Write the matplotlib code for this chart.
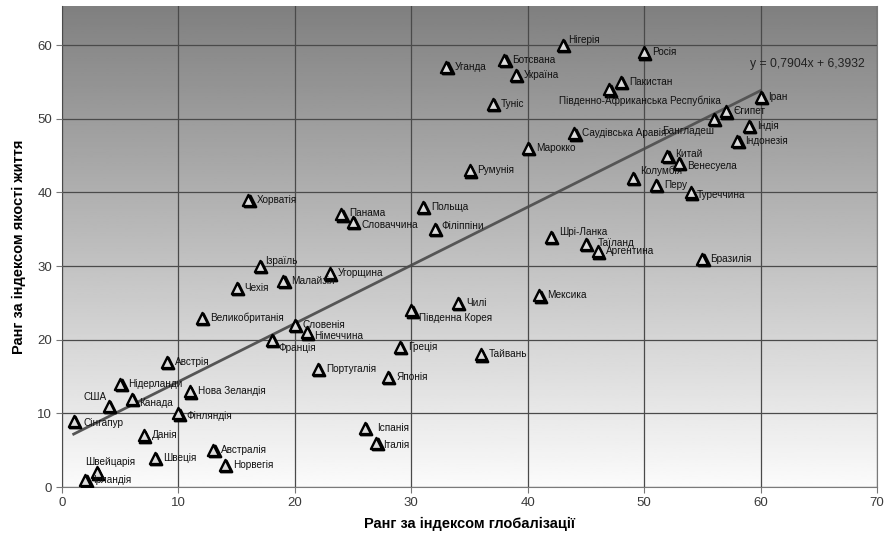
import matplotlib
matplotlib.use("Agg")
import matplotlib.pyplot as plt
import matplotlib.transforms as mtransforms
import numpy as np

plt.rcParams['font.family'] = ['Liberation Sans', 'DejaVu Sans']

# дані: ранг за індексом глобалізації (x) і ранг за індексом якості життя (y)
countries = [
    "Нігерія", "Росія", "Ботсвана", "Уганда", "Україна", "Пакистан",
    "Південно-Африканська Республіка", "Іран", "Туніс", "Єгипет", "Бангладеш",
    "Індія", "Саудівська Аравія", "Індонезія", "Марокко", "Китай", "Венесуела",
    "Румунія", "Колумбія", "Перу", "Туреччина", "Хорватія", "Польща", "Панама",
    "Словаччина", "Філіппіни", "Шрі-Ланка", "Таїланд", "Аргентина", "Бразилія",
    "Ізраїль", "Угорщина", "Малайзія", "Чехія", "Мексика", "Чилі",
    "Південна Корея", "Великобританія", "Словенія", "Німеччина", "Франція",
    "Греція", "Тайвань", "Австрія", "Португалія", "Японія", "Нідерланди",
    "Нова Зеландія", "Канада", "США", "Фінляндія", "Сінгапур", "Іспанія",
    "Данія", "Італія", "Австралія", "Швеція", "Норвегія", "Швейцарія", "Ірландія",
]
glob_rank = [
    43, 50, 38, 33, 39, 48, 47, 60, 37, 57, 56, 59, 44, 58, 40, 52, 53, 35, 49, 51,
    54, 16, 31, 24, 25, 32, 42, 45, 46, 55, 17, 23, 19, 15, 41, 34, 30, 12, 20, 21,
    18, 29, 36, 9, 22, 28, 5, 11, 6, 4, 10, 1, 26, 7, 27, 13, 8, 14, 3, 2,
]
life_rank = [
    60, 59, 58, 57, 56, 55, 54, 53, 52, 51, 50, 49, 48, 47, 46, 45, 44, 43, 42, 41,
    40, 39, 38, 37, 36, 35, 34, 33, 32, 31, 30, 29, 28, 27, 26, 25, 24, 23, 22, 21,
    20, 19, 18, 17, 16, 15, 14, 13, 12, 11, 10, 9, 8, 7, 6, 5, 4, 3, 2, 1,
]
trend_text = "y = 0,7904x + 6,3932"

# розташування підписів (пікселі), які відрізняються від звичайного
label_pos = {
    "Нігерія": (5, 5, "left"), "Ізраїль": (5, 5, "left"), "Колумбія": (8, 7, "left"),
    "Шрі-Ланка": (8, 5, "left"), "Філіппіни": (7, 3, "left"),
    "Південна Корея": (8, -8, "left"), "Франція": (7, -8, "left"),
    "Німеччина": (8, -4, "left"), "Туреччина": (6, -3, "left"),
    "Канада": (7, -4, "left"), "Фінляндія": (8, -3, "left"),
    "Іспанія": (12, 0, "left"), "Таїланд": (12, 1, "left"),
    "Бангладеш": (0, -12, "right"), "Південно-Африканська Республіка": (31, -12, "center"),
    "США": (-2, 9, "right"), "Швейцарія": (13, 10, "center"),
    "Італія": (7, -2, "left"), "Сінгапур": (10, -2, "left"),
    "Панама": (8, 1, "left"), "Словаччина": (8, -3, "left"),
    "Китай": (8, 2, "left"), "Венесуела": (8, -3, "left"),
}

fig = plt.figure(figsize=(8.85, 5.41), dpi=100)
ax = fig.add_axes([0.0701, 0.0998, 0.9209, 0.8891])
ax.set_xlim(0, 70)
ax.set_ylim(0, 65.3)

# градієнтний фон
grad = np.linspace(0.985, 0.5, 256).reshape(-1, 1)
ax.imshow(grad, cmap='gray', vmin=0, vmax=1, aspect='auto',
          extent=[0, 70, 0, 65.3], origin='lower', zorder=0)

ax.set_xticks(range(0, 71, 10))
ax.set_yticks(range(0, 61, 10))
ax.grid(True, color='#4a4a4a', linewidth=0.9, zorder=1)
ax.set_axisbelow(False)
ax.tick_params(direction='out', length=4, width=0.8, color='#777777',
               labelsize=9.5, labelcolor='#3a3a3a', pad=3)
for s in ['left', 'bottom', 'right']:
    ax.spines[s].set_color('#7a7a7a')
ax.spines['top'].set_visible(False)

# лінія тренду
k, b = np.polyfit(glob_rank, life_rank, 1)
xs = np.array([min(glob_rank), max(glob_rank)])
ax.plot(xs, k * xs + b, color='#555555', linewidth=2, zorder=2)

# точки з тінню
shadow = mtransforms.offset_copy(ax.transData, fig=fig, x=1.3, y=-1.3, units='dots')
ax.scatter(glob_rank, life_rank, marker='^', s=64, c='black',
           linewidths=1.9, edgecolors='black', transform=shadow, zorder=3)
ax.scatter(glob_rank, life_rank, marker='^', s=64, c='#dcdcdc',
           linewidths=1.7, edgecolors='black', zorder=4)

for name, gx, ly in zip(countries, glob_rank, life_rank):
    dx, dy, ha = label_pos.get(name, (8, 0, "left"))
    ax.annotate(name, (gx, ly), xytext=(dx, dy), textcoords='offset pixels',
                ha=ha, va='center', fontsize=7.2, color='#111111', zorder=5)

ax.text(59.1, 57.4, trend_text, fontsize=8.8, color='#222222', ha='left', va='center', zorder=5)

ax.set_xlabel("Ранг за індексом глобалізації", fontsize=10.5, fontweight='bold', labelpad=6)
ax.set_ylabel("Ранг за індексом якості життя", fontsize=10.5, fontweight='bold', labelpad=8)

fig.savefig("out.png", dpi=100)
